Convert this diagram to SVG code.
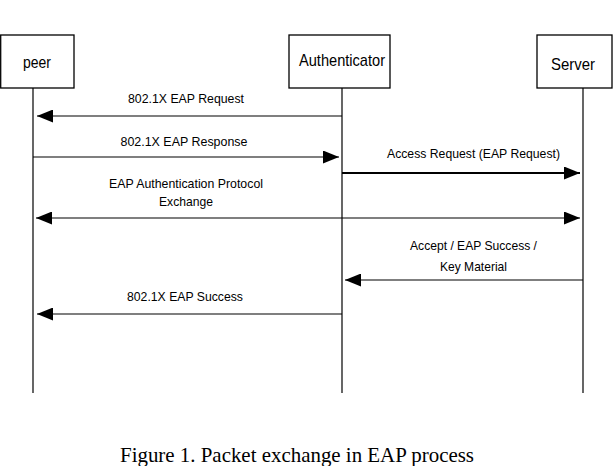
<svg xmlns="http://www.w3.org/2000/svg" width="614" height="466" viewBox="0 0 614 466">
<style>
.box{fill:#fff;stroke:#000;stroke-width:1.3}
.life{stroke:#000;stroke-width:1.2;fill:none}
.msg{stroke:#000;stroke-width:1.2;fill:none}
.thick{stroke-width:2.2}
.nt{font-family:"Liberation Sans",Arial,sans-serif;font-size:17px;fill:#000;text-anchor:middle}
.lt{font-family:"Liberation Sans",Arial,sans-serif;font-size:13.5px;fill:#000;text-anchor:middle}
.cap{font-family:"Liberation Serif","Times New Roman",serif;font-size:21px;fill:#000}
</style>
<defs>
<marker id="ah" viewBox="0 0 16 13" refX="16" refY="6.5" markerWidth="16" markerHeight="13" markerUnits="userSpaceOnUse" orient="auto-start-reverse">
<path d="M0,0 L16,6.5 L0,13 Z" fill="#000"/>
</marker>
</defs>
<g id="peer">
<rect class="box" x="0.7" y="35" width="73.3" height="53"/>
<text class="nt" x="37" y="68" textLength="28" lengthAdjust="spacingAndGlyphs">peer</text>
<line class="life" x1="33" y1="88" x2="33" y2="393"/>
</g>
<g id="authenticator">
<rect class="box" x="289" y="35" width="101" height="53"/>
<text class="nt" x="342" y="66" textLength="86" lengthAdjust="spacingAndGlyphs">Authenticator</text>
<line class="life" x1="342" y1="88" x2="342" y2="393"/>
</g>
<g id="server">
<rect class="box" x="537" y="35" width="75" height="53"/>
<text class="nt" x="573" y="70" textLength="44" lengthAdjust="spacingAndGlyphs">Server</text>
<line class="life" x1="583" y1="88" x2="583" y2="393"/>
</g>
<g id="connectors">
<line class="msg" x1="342" y1="116" x2="37" y2="116" marker-end="url(#ah)"/>
<text class="lt" x="186" y="103" textLength="116" lengthAdjust="spacingAndGlyphs">802.1X EAP Request</text>
<line class="msg" x1="33" y1="157" x2="339" y2="157" marker-end="url(#ah)"/>
<text class="lt" x="184" y="146" textLength="127" lengthAdjust="spacingAndGlyphs">802.1X EAP Response</text>
<line class="msg thick" x1="342" y1="173" x2="580" y2="173" marker-end="url(#ah)"/>
<text class="lt" x="473.5" y="158" textLength="173" lengthAdjust="spacingAndGlyphs">Access Request (EAP Request)</text>
<line class="msg" x1="36" y1="218" x2="580" y2="218" marker-start="url(#ah)" marker-end="url(#ah)"/>
<text class="lt" x="186" y="188" textLength="154" lengthAdjust="spacingAndGlyphs">EAP Authentication Protocol</text>
<text class="lt" x="186" y="206" textLength="54" lengthAdjust="spacingAndGlyphs">Exchange</text>
<line class="msg" x1="583" y1="280" x2="345" y2="280" marker-end="url(#ah)"/>
<text class="lt" x="473.5" y="250" textLength="127" lengthAdjust="spacingAndGlyphs">Accept / EAP Success /</text>
<text class="lt" x="473.5" y="271" textLength="67" lengthAdjust="spacingAndGlyphs">Key Material</text>
<line class="msg" x1="342" y1="314" x2="37" y2="314" marker-end="url(#ah)"/>
<text class="lt" x="185" y="301" textLength="116" lengthAdjust="spacingAndGlyphs">802.1X EAP Success</text>
</g>
<text class="cap" x="120" y="462" textLength="354" lengthAdjust="spacingAndGlyphs">Figure 1. Packet exchange in EAP process</text>
</svg>
